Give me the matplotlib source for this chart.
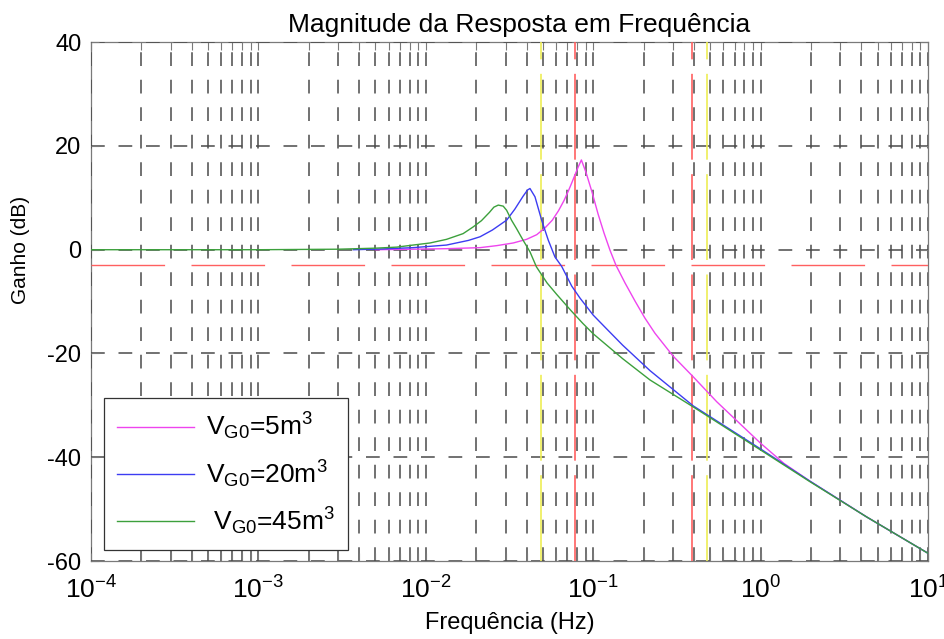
import matplotlib
matplotlib.use('Agg')
import matplotlib.pyplot as plt
from matplotlib.ticker import LogLocator, FixedLocator, NullLocator

plt.rcParams['font.family'] = ['Liberation Sans', 'DejaVu Sans']
plt.rcParams['mathtext.fontset'] = 'custom'
plt.rcParams['mathtext.rm'] = 'Liberation Sans'
plt.rcParams['mathtext.it'] = 'Liberation Sans'
plt.rcParams['axes.unicode_minus'] = False

# colours (MATLAB-ish)
MAGENTA = '#ee44ee'
BLUE = '#3c3cf2'
GREEN = '#3ca03c'
RED = '#ff6060'
YELLOW = '#eded55'
GRID = '#4a4a4a'
AXIS = '#7a7a7a'

# data (Hz, dB)
f_5 = [0.005, 0.0084, 0.0133, 0.0211, 0.0267, 0.0333, 0.0400, 0.0460, 0.0515, 0.0570,
       0.0620, 0.0670, 0.0710, 0.0745, 0.0780, 0.0815, 0.0850, 0.0906, 0.0984, 0.1069,
       0.1161, 0.1260, 0.1368, 0.1549, 0.1778, 0.2039, 0.2339, 0.3000, 0.3960, 0.5470,
       1.0, 1.38, 1.97, 4.3, 10.0]
g_5 = [0.0, 0.1, 0.2, 0.4, 0.8, 1.3, 2.0, 2.9, 4.2, 5.7,
       7.5, 9.5, 11.3, 12.9, 14.5, 16.0, 17.3, 14.9, 11.1, 6.9,
       3.2, -0.1, -3.0, -6.4, -9.9, -13.2, -16.1, -20.5, -24.5, -29.3,
       -37.3, -41.2, -44.6, -51.5, -58.5]

f_20 = [0.0037, 0.0055, 0.0084, 0.0133, 0.0180, 0.0211, 0.0250, 0.0304, 0.0340, 0.0381,
        0.0405, 0.0419, 0.0449, 0.0492, 0.0539, 0.0591, 0.0648, 0.0744, 0.0833, 0.1000,
        0.1207, 0.1500, 0.2184, 0.3960, 1.0, 1.97, 4.3, 10.0]
g_20 = [0.0, 0.15, 0.4, 0.9, 1.8, 2.5, 3.8, 5.7, 7.8, 10.3,
        11.5, 11.8, 10.2, 5.7, 1.85, -1.4, -3.2, -7.0, -9.3, -12.6,
        -15.3, -18.4, -23.3, -30.1, -38.4, -44.6, -51.5, -58.5]

f_45 = [1e-4, 1e-3, 0.003, 0.005, 0.0067, 0.0084, 0.0106, 0.0133, 0.0167, 0.0192,
        0.0215, 0.0240, 0.0255, 0.0271, 0.0290, 0.0304, 0.0325, 0.0348, 0.0381, 0.0419,
        0.0458, 0.0530, 0.0605, 0.0740, 0.0867, 0.1000, 0.1500, 0.2184, 0.3960, 1.0,
        1.97, 4.3, 10.0]
g_45 = [0.0, 0.0, 0.1, 0.3, 0.5, 0.9, 1.3, 2.0, 3.1, 4.4,
        5.6, 7.2, 8.2, 8.6, 8.4, 7.6, 5.7, 4.1, 1.85, -0.4,
        -3.3, -6.4, -8.6, -11.8, -14.2, -16.2, -21.0, -25.1, -30.3, -38.6,
        -44.7, -51.5, -58.5]

labels = [r'V$_{\mathrm{G0}}$=5m$^3$', r'V$_{\mathrm{G0}}$=20m$^3$', r' V$_{\mathrm{G0}}$=45m$^3$']

# reference markers
cut_db = -3
red_f = [0.078, 0.39]
yellow_f = [0.0488, 0.479]

fig = plt.figure(figsize=(9.45, 6.39), dpi=100, facecolor='white')
ax = fig.add_axes([0.0963, 0.122, 0.8857, 0.812])
ax.set_xscale('log')
ax.set_xlim(1e-4, 10)
ax.set_ylim(-60, 40)

# -3 dB line and marker frequencies
ax.axhline(cut_db, color=RED, lw=1.0, dashes=(53, 19), zorder=2.6)
for fr in red_f:
    ax.axvline(fr, color=RED, lw=1.2, dashes=(51.5, 8.7), zorder=2.6)
for fy in yellow_f:
    ax.axvline(fy, color=YELLOW, lw=1.2, dashes=(51.5, 8.7), zorder=2.6)

ax.plot(f_5, g_5, color=MAGENTA, lw=1.0, label=labels[0], zorder=3)
ax.plot(f_20, g_20, color=BLUE, lw=1.0, label=labels[1], zorder=3.1)
ax.plot(f_45, g_45, color=GREEN, lw=1.0, label=labels[2], zorder=3.2)

# ticks and grid
ax.xaxis.set_major_locator(LogLocator(base=10, numticks=10))
ax.xaxis.set_minor_locator(LogLocator(base=10, subs=range(2, 10), numticks=20))
ax.yaxis.set_major_locator(FixedLocator([-60, -40, -20, 0, 20, 40]))
ax.yaxis.set_minor_locator(NullLocator())
ax.set_axisbelow(False)
ax.grid(which='major', axis='both', color=GRID, lw=1.1, linestyle=(0, (9, 9)))
ax.grid(which='minor', axis='x', color=GRID, lw=1.1, linestyle=(0, (9, 9)))

ax.tick_params(which='both', direction='in', top=True, right=True, color=AXIS, width=0.8)
ax.tick_params(which='major', length=6)
ax.tick_params(which='minor', length=6)
ax.tick_params(axis='y', labelsize=17, pad=7)
ax.tick_params(axis='x', labelsize=19, pad=11)
for s in ax.spines.values():
    s.set_color(AXIS)
    s.set_linewidth(0.9)

ax.set_title('Magnitude da Resposta em Frequência', fontsize=19, pad=7, x=0.512)
ax.set_xlabel('Frequência (Hz)', fontsize=17, labelpad=6)
ax.set_ylabel('Ganho (dB)', fontsize=15)
ax.yaxis.set_label_coords(-0.073, 0.6)

leg = ax.legend(loc='lower left', bbox_to_anchor=(0.0155, 0.021), fontsize=19,
                handlelength=2.9, handletextpad=0.45, labelspacing=0.6,
                borderpad=0.5, borderaxespad=0, fancybox=False, framealpha=1,
                edgecolor='#333333')
leg.get_frame().set_linewidth(0.9)
leg.set_zorder(5)

fig.savefig('out.png', dpi=100, facecolor='white')
